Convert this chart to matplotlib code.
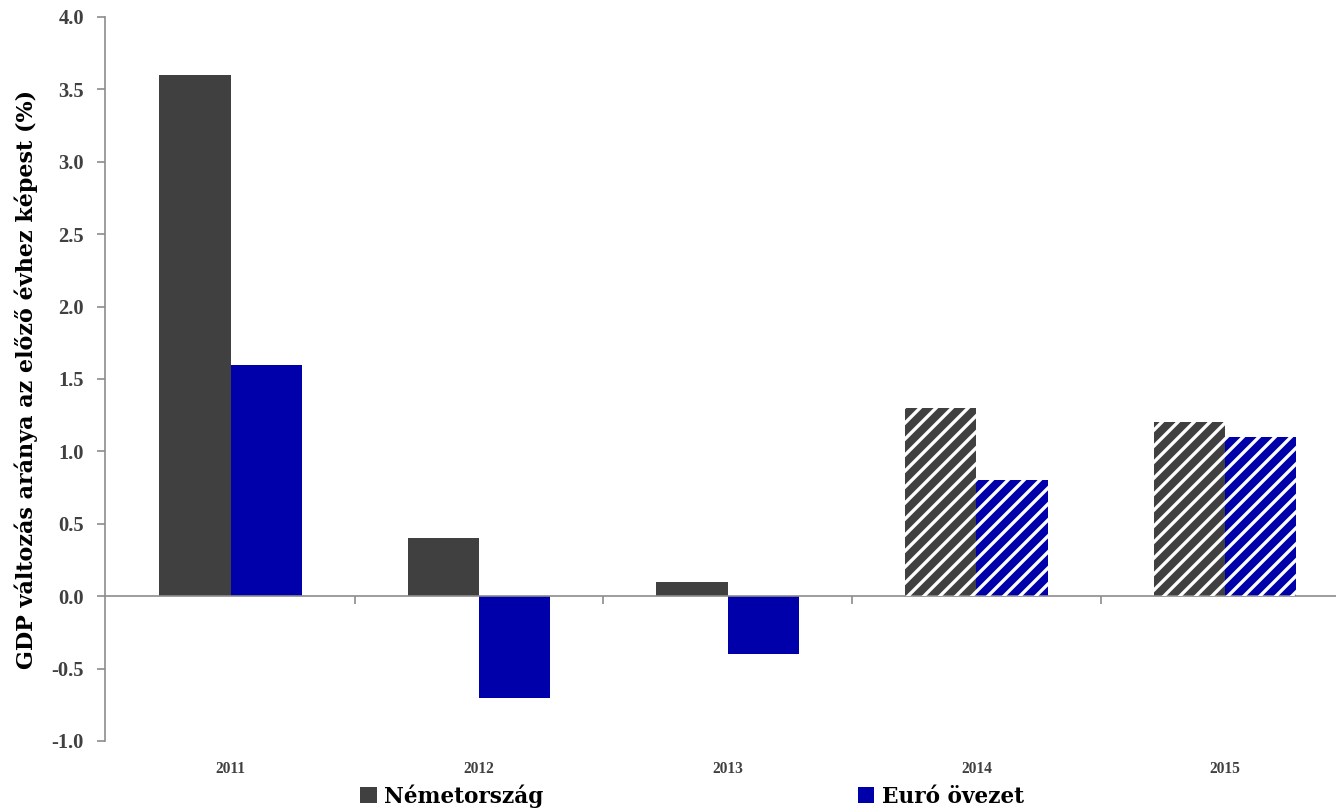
import matplotlib
matplotlib.use("Agg")
import matplotlib.pyplot as plt
from matplotlib.patches import Patch
import numpy as np

years = ["2011", "2012", "2013", "2014", "2015"]
germany = [3.6, 0.4, 0.1, 1.3, 1.2]
eurozone = [1.6, -0.7, -0.4, 0.8, 1.1]
forecast = [False, False, False, True, True]
yticks = [-1.0, -0.5, 0.0, 0.5, 1.0, 1.5, 2.0, 2.5, 3.0, 3.5, 4.0]
series_names = ["Németország", "Euró övezet"]
colors = ["#404040", "#0000AA"]

W, H, DPI = 1336, 811, 96
s = 80 / DPI  # size scale (sizes tuned in px-equivalent at 80 dpi)

plt.rcParams['hatch.linewidth'] = 3.0 * s
plt.rcParams['font.family'] = ['Liberation Serif', 'DejaVu Serif']

fig = plt.figure(figsize=(W / DPI, H / DPI), dpi=DPI)
left, right_px, top_px, bot_px = 105, 105 + 5 * 248.6, 17, 741
ax = fig.add_axes([left / W, 1 - bot_px / H, (right_px - left) / W, (bot_px - top_px) / H])

x = np.arange(len(years))
bw = 0.287
for vals, off, col in [(germany, -bw / 2, colors[0]), (eurozone, bw / 2, colors[1])]:
    bars = ax.bar(x + off, vals, width=bw, color=col, linewidth=0, zorder=2)
    for b, fc in zip(bars, forecast):
        if fc:
            ax.bar(b.get_x() + bw / 2, b.get_height(), width=bw, facecolor='none',
                   edgecolor='white', hatch='//', linewidth=0, zorder=3)

ax.set_xlim(-0.505, len(years) - 0.505)
ax.set_ylim(-1.0, 4.0)
ax.set_yticks(yticks)
ax.set_yticklabels([f"{v:.1f}" for v in yticks])
for sp in ['top', 'right']:
    ax.spines[sp].set_visible(False)
ax.spines['left'].set_color('#8c8c8c')
ax.spines['left'].set_linewidth(1.5 * s)
ax.spines['bottom'].set_position(('data', 0))
ax.spines['bottom'].set_color('#8c8c8c')
ax.spines['bottom'].set_linewidth(1.5 * s)
ax.tick_params(axis='y', direction='out', length=7 * s, width=1.5 * s, color='#8c8c8c',
               labelsize=18.5 * s, labelcolor='#404040', pad=12 * s)
ax.set_xticks(np.arange(0.5, len(years) - 0.5, 1.0))
ax.set_xticklabels([])
ax.tick_params(axis='x', direction='out', length=7 * s, width=1.5 * s, color='#8c8c8c')
for lab in ax.get_yticklabels():
    lab.set_fontweight('bold')

for xi, yr in zip(x, years):
    ax.text(xi, -1.195, yr, ha='center', va='center',
            fontsize=14 * s, fontweight='bold', color='#404040')

ax.set_ylabel("GDP változás aránya az előző évhez képest (%)", fontsize=20 * s,
              fontweight='bold', color='black', family='DejaVu Serif', labelpad=12 * s)

handles = [Patch(facecolor=c, edgecolor='none') for c in colors]
leg = fig.legend(handles, series_names, loc='center', bbox_to_anchor=(0.518, 1 - 796 / H),
                 ncol=2, frameon=False,
                 prop={'weight': 'bold', 'size': 19.5 * s, 'family': 'DejaVu Serif'},
                 handlelength=0.75, handleheight=0.75, handletextpad=0.35, columnspacing=14.5,
                 borderpad=0, borderaxespad=0)

fig.savefig("out.png", dpi=DPI)
